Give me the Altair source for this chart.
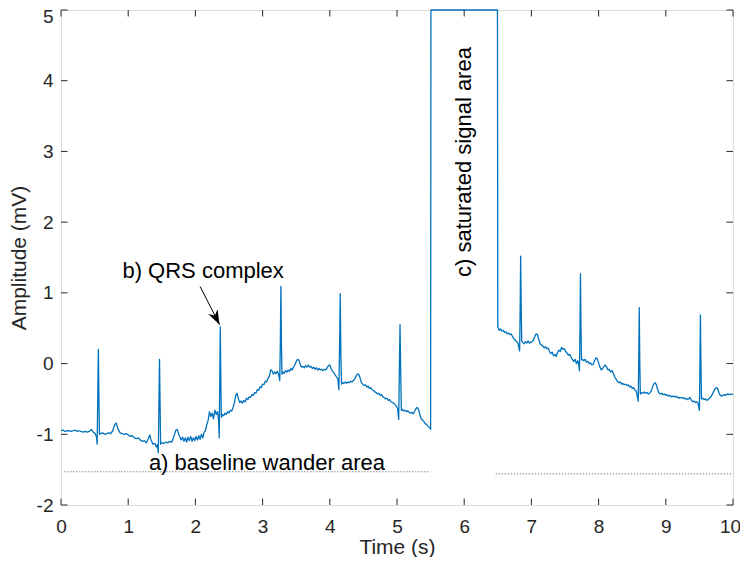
import altair as alt
import pandas as pd

# ---------------- data ----------------
# signal before the saturated stretch: (time s, amplitude mV)
pre_sat = [
    (0.00, -0.95), (0.03, -0.94), (0.06, -0.96), (0.09, -0.95), (0.12, -0.95), (0.15, -0.96),
    (0.18, -0.95), (0.21, -0.94), (0.24, -0.96), (0.27, -0.95), (0.30, -0.96), (0.33, -0.97),
    (0.36, -0.96), (0.39, -0.97), (0.42, -0.96), (0.45, -0.93), (0.48, -0.97), (0.51, -0.99),
    (0.530, -1.05), (0.538, -1.14), (0.548, -0.40), (0.556, 0.20), (0.564, -0.45), (0.572, -1.00),
    (0.59, -0.99), (0.62, -0.98), (0.65, -1.00), (0.68, -0.99), (0.71, -0.98), (0.74, -0.99),
    (0.77, -0.95), (0.80, -0.86), (0.82, -0.84), (0.85, -0.93), (0.88, -0.98), (0.91, -0.99),
    (0.94, -1.00), (0.97, -0.99), (1.00, -1.01), (1.03, -1.03), (1.06, -1.02), (1.09, -1.05),
    (1.12, -1.06), (1.15, -1.05), (1.18, -1.08), (1.21, -1.10), (1.24, -1.09), (1.27, -1.12),
    (1.30, -1.06), (1.32, -1.01), (1.34, -1.08), (1.37, -1.14), (1.40, -1.13), (1.42, -1.18),
    (1.435, -1.15), (1.448, -1.26), (1.458, -0.50), (1.466, 0.06), (1.474, -0.55), (1.482, -1.14),
    (1.50, -1.12), (1.53, -1.13), (1.56, -1.11), (1.59, -1.12), (1.62, -1.10), (1.65, -1.11),
    (1.68, -1.03), (1.71, -0.94), (1.73, -0.93), (1.76, -1.02), (1.79, -1.08), (1.81, -1.04),
    (1.83, -1.10), (1.85, -1.05), (1.87, -1.11), (1.89, -1.04), (1.91, -1.09), (1.93, -1.03),
    (1.95, -1.10), (1.97, -1.05), (1.99, -1.09), (2.01, -1.03), (2.03, -1.08), (2.05, -1.02),
    (2.07, -1.07), (2.09, -1.00), (2.11, -1.05), (2.13, -0.97), (2.15, -0.95), (2.17, -0.86),
    (2.19, -0.80), (2.21, -0.68), (2.23, -0.75), (2.25, -0.70), (2.27, -0.78), (2.29, -0.66),
    (2.31, -0.72), (2.33, -0.68), (2.345, -0.80), (2.355, -1.05), (2.362, -0.30), (2.370, 0.52),
    (2.378, -0.20), (2.386, -0.76), (2.40, -0.72), (2.42, -0.74), (2.44, -0.70), (2.46, -0.72),
    (2.48, -0.68), (2.50, -0.70), (2.52, -0.66), (2.54, -0.67), (2.56, -0.62), (2.58, -0.56),
    (2.60, -0.45), (2.62, -0.42), (2.64, -0.50), (2.66, -0.55), (2.68, -0.53), (2.70, -0.56),
    (2.72, -0.52), (2.74, -0.54), (2.76, -0.49), (2.78, -0.51), (2.80, -0.47), (2.82, -0.48),
    (2.84, -0.44), (2.86, -0.45), (2.88, -0.41), (2.90, -0.42), (2.92, -0.37), (2.94, -0.38),
    (2.96, -0.33), (2.98, -0.34), (3.00, -0.29), (3.02, -0.30), (3.04, -0.25), (3.06, -0.26),
    (3.08, -0.21), (3.10, -0.18), (3.12, -0.09), (3.14, -0.10), (3.16, -0.15), (3.18, -0.12),
    (3.20, -0.14), (3.22, -0.11), (3.24, -0.16), (3.255, -0.24), (3.264, 0.30), (3.272, 1.09),
    (3.280, 0.30), (3.288, -0.15), (3.30, -0.12), (3.32, -0.14), (3.34, -0.10), (3.36, -0.12),
    (3.38, -0.09), (3.40, -0.11), (3.42, -0.07), (3.44, -0.09), (3.46, -0.05), (3.48, -0.02),
    (3.50, 0.03), (3.52, 0.06), (3.54, 0.05), (3.56, -0.01), (3.58, -0.05), (3.60, -0.04),
    (3.62, -0.06), (3.64, -0.03), (3.66, -0.05), (3.68, -0.02), (3.70, -0.05), (3.72, -0.04),
    (3.74, -0.07), (3.76, -0.05), (3.78, -0.08), (3.80, -0.06), (3.82, -0.09), (3.84, -0.07),
    (3.86, -0.09), (3.88, -0.08), (3.90, -0.10), (3.92, -0.08), (3.94, -0.09), (3.96, -0.06),
    (3.98, -0.03), (4.00, -0.02), (4.02, -0.07), (4.04, -0.11), (4.06, -0.13), (4.08, -0.16),
    (4.10, -0.19), (4.12, -0.22), (4.135, -0.37), (4.145, 0.20), (4.155, 0.99), (4.165, 0.10),
    (4.175, -0.29), (4.19, -0.27), (4.21, -0.28), (4.23, -0.26), (4.25, -0.28), (4.27, -0.26),
    (4.29, -0.27), (4.31, -0.25), (4.33, -0.26), (4.35, -0.24), (4.37, -0.22), (4.39, -0.18),
    (4.41, -0.15), (4.43, -0.15), (4.45, -0.20), (4.47, -0.27), (4.49, -0.29), (4.51, -0.31),
    (4.53, -0.30), (4.55, -0.33), (4.57, -0.32), (4.59, -0.35), (4.61, -0.34), (4.63, -0.37),
    (4.65, -0.38), (4.67, -0.40), (4.69, -0.41), (4.71, -0.43), (4.73, -0.42), (4.75, -0.45),
    (4.77, -0.44), (4.79, -0.47), (4.81, -0.48), (4.83, -0.50), (4.85, -0.49), (4.87, -0.52),
    (4.89, -0.51), (4.91, -0.54), (4.93, -0.55), (4.95, -0.56), (4.97, -0.58), (4.99, -0.60),
    (5.01, -0.64), (5.025, -0.79), (5.035, -0.10), (5.045, 0.55), (5.055, -0.10), (5.065, -0.66),
    (5.08, -0.65), (5.10, -0.67), (5.12, -0.66), (5.14, -0.68), (5.16, -0.67), (5.18, -0.69),
    (5.20, -0.70), (5.22, -0.69), (5.24, -0.71), (5.26, -0.68), (5.28, -0.64), (5.30, -0.62),
    (5.32, -0.65), (5.34, -0.72), (5.36, -0.78), (5.38, -0.80), (5.40, -0.82), (5.42, -0.85),
    (5.44, -0.86), (5.46, -0.89), (5.48, -0.90), (5.50, -0.93),
]
# clipped (saturated) part
saturated = [(5.505, 5.0), (6.495, 5.0)]
# signal after the saturated stretch
post_sat = [
    (6.50, 0.52), (6.52, 0.47), (6.54, 0.49), (6.56, 0.46), (6.58, 0.47), (6.60, 0.44),
    (6.62, 0.45), (6.64, 0.42), (6.66, 0.43), (6.68, 0.41), (6.70, 0.42), (6.72, 0.38),
    (6.74, 0.35), (6.76, 0.33), (6.78, 0.31), (6.80, 0.29), (6.815, 0.22), (6.825, 0.18),
    (6.833, 0.80), (6.840, 1.52), (6.848, 0.80), (6.856, 0.32), (6.87, 0.30), (6.89, 0.28),
    (6.91, 0.31), (6.93, 0.29), (6.95, 0.32), (6.97, 0.29), (6.99, 0.30), (7.01, 0.31),
    (7.03, 0.33), (7.05, 0.38), (7.07, 0.42), (7.09, 0.41), (7.11, 0.34), (7.13, 0.28),
    (7.15, 0.26), (7.17, 0.25), (7.19, 0.22), (7.21, 0.24), (7.23, 0.21), (7.25, 0.22),
    (7.27, 0.17), (7.29, 0.14), (7.31, 0.16), (7.33, 0.11), (7.35, 0.13), (7.37, 0.10),
    (7.39, 0.16), (7.41, 0.19), (7.43, 0.17), (7.45, 0.23), (7.47, 0.20), (7.49, 0.21),
    (7.51, 0.17), (7.53, 0.15), (7.55, 0.12), (7.57, 0.13), (7.59, 0.09), (7.61, 0.06),
    (7.63, 0.03), (7.65, 0.06), (7.67, 0.00), (7.69, 0.04), (7.705, -0.02), (7.715, -0.10),
    (7.723, 0.50), (7.730, 1.27), (7.738, 0.50), (7.746, 0.05), (7.76, 0.06), (7.78, 0.04),
    (7.80, 0.06), (7.82, 0.02), (7.84, 0.03), (7.86, 0.00), (7.88, 0.01), (7.90, -0.02),
    (7.92, -0.01), (7.94, 0.04), (7.96, 0.08), (7.98, 0.07), (8.00, 0.01), (8.02, -0.05),
    (8.04, -0.09), (8.06, -0.07), (8.08, -0.04), (8.10, -0.02), (8.12, -0.05), (8.14, -0.09),
    (8.16, -0.08), (8.18, -0.12), (8.20, -0.10), (8.22, -0.14), (8.24, -0.19), (8.26, -0.22),
    (8.28, -0.25), (8.30, -0.27), (8.32, -0.26), (8.34, -0.29), (8.36, -0.28), (8.38, -0.30),
    (8.40, -0.29), (8.42, -0.31), (8.44, -0.30), (8.46, -0.33), (8.48, -0.32), (8.50, -0.35),
    (8.52, -0.34), (8.54, -0.37), (8.56, -0.39), (8.59, -0.53), (8.598, 0.10), (8.605, 0.79),
    (8.613, 0.00), (8.621, -0.43), (8.64, -0.41), (8.66, -0.42), (8.68, -0.40), (8.70, -0.42),
    (8.72, -0.41), (8.74, -0.43), (8.76, -0.42), (8.78, -0.39), (8.80, -0.34), (8.82, -0.29),
    (8.84, -0.27), (8.86, -0.30), (8.88, -0.37), (8.90, -0.42), (8.92, -0.43), (8.94, -0.42),
    (8.96, -0.44), (8.98, -0.43), (9.00, -0.45), (9.02, -0.44), (9.04, -0.46), (9.06, -0.45),
    (9.08, -0.47), (9.10, -0.46), (9.12, -0.47), (9.14, -0.46), (9.16, -0.48), (9.18, -0.47),
    (9.20, -0.49), (9.22, -0.48), (9.24, -0.49), (9.26, -0.48), (9.28, -0.50), (9.30, -0.49),
    (9.32, -0.51), (9.34, -0.50), (9.36, -0.48), (9.38, -0.52), (9.40, -0.54), (9.42, -0.53),
    (9.44, -0.55), (9.46, -0.54), (9.48, -0.56), (9.50, -0.66), (9.508, 0.00), (9.515, 0.69),
    (9.523, 0.00), (9.531, -0.50), (9.55, -0.49), (9.57, -0.51), (9.59, -0.50), (9.61, -0.52),
    (9.63, -0.51), (9.65, -0.49), (9.67, -0.47), (9.69, -0.44), (9.71, -0.40), (9.73, -0.36),
    (9.75, -0.34), (9.77, -0.35), (9.79, -0.41), (9.81, -0.45), (9.83, -0.46), (9.85, -0.45),
    (9.87, -0.44), (9.89, -0.45), (9.91, -0.43), (9.93, -0.44), (9.95, -0.43), (9.97, -0.44),
    (10.00, -0.43),
]

# dotted marker lines under the annotated areas: (t start, t end, amplitude)
dotted_lines = [(0.05, 5.50, -1.53), (6.47, 10.0, -1.56)]

# annotation texts: (text, t, amplitude, angle)
notes = [
    ("b) QRS complex", 2.115, 1.31, 0),
    ("a) baseline wander area", 3.064, -1.40, 0),
    ("c) saturated signal area", 5.99, 2.85, 270),
]
# arrow for the QRS annotation: start and tip
arrow_start = (2.07, 1.09)
arrow_tip = (2.36, 0.55)

x_ticks = list(range(0, 11))
y_ticks = list(range(-2, 6))

# ---------------- build chart ----------------
W, H = 672, 495
FONT = "Liberation Sans"
AX = "#262626"
BLUE = "#0072BD"

sig_pts = pre_sat + saturated + post_sat
sig = pd.DataFrame({"t": [p[0] for p in sig_pts], "v": [p[1] for p in sig_pts]})
sig["i"] = range(len(sig))

xs = alt.Scale(domain=[0, 10], nice=False, zero=False)
ys = alt.Scale(domain=[-2, 5], nice=False, zero=False)

x_axis = alt.Axis(
    values=x_ticks, title="Time (s)", ticks=False, domain=False, grid=False,
    labelFont=FONT, labelFontSize=19, labelColor=AX, labelPadding=12,
    labelFlush=False, labelOverlap=False, labelExpr="'' + datum.value",
    labelOffset={"condition": {"test": "datum.value == 10", "value": -3}, "value": 0},
    titleFont=FONT, titleFontSize=21, titleFontWeight="normal", titleColor=AX,
    titleY=42, titleBaseline="middle",
)
y_axis = alt.Axis(
    values=y_ticks, title="Amplitude (mV)", ticks=False, domain=False, grid=False,
    labelFont=FONT, labelFontSize=19, labelColor=AX, labelPadding=8,
    labelFlush=False, labelOverlap=False, labelExpr="'' + datum.value",
    labelOffset={"condition": {"test": "datum.value == 5", "value": 6}, "value": 0},
    titleFont=FONT, titleFontSize=21, titleFontWeight="normal", titleColor=AX,
    titleX=-42, titleY=H / 2, titleAngle=270, titleAlign="center", titleBaseline="middle",
)


def X(field="t"):
    return alt.X(f"{field}:Q", scale=xs, axis=x_axis)


def Y(field="v"):
    return alt.Y(f"{field}:Q", scale=ys, axis=y_axis)


line = alt.Chart(sig).mark_line(color=BLUE, strokeWidth=1.3, strokeJoin="round").encode(
    x=X(), y=Y(), order="i:Q",
)

dots = pd.DataFrame(dotted_lines, columns=["t", "t2", "v"])
dotted = alt.Chart(dots).mark_rule(color="#555555", strokeWidth=1, strokeDash=[1, 2]).encode(
    x=X(), x2="t2:Q", y=Y()
)

xt = pd.DataFrame({"t": x_ticks})
yt = pd.DataFrame({"v": y_ticks})
TL = 6.5
xtick_b = alt.Chart(xt).mark_rule(color=AX, strokeWidth=1).encode(
    x=X(), y=alt.value(H), y2=alt.value(H - TL))
xtick_t = alt.Chart(xt).mark_rule(color=AX, strokeWidth=1).encode(
    x=X(), y=alt.value(0), y2=alt.value(TL))
ytick_l = alt.Chart(yt).mark_rule(color=AX, strokeWidth=1).encode(
    y=Y(), x=alt.value(0), x2=alt.value(TL))
ytick_r = alt.Chart(yt).mark_rule(color=AX, strokeWidth=1).encode(
    y=Y(), x=alt.value(W), x2=alt.value(W - TL))

notes_df = pd.DataFrame(notes, columns=["text", "t", "v", "angle"])
text_h = alt.Chart(notes_df[notes_df.angle == 0]).mark_text(
    font=FONT, fontSize=22, color="black", align="center", baseline="middle"
).encode(x=X(), y=Y(), text="text:N")
text_v = alt.Chart(notes_df[notes_df.angle == 270]).mark_text(
    font=FONT, fontSize=22, color="black", align="center", baseline="middle", angle=270
).encode(x=X(), y=Y(), text="text:N")

arr = pd.DataFrame({"t": [arrow_start[0]], "v": [arrow_start[1]],
                    "t2": [arrow_tip[0]], "v2": [arrow_tip[1]]})
arrow_line = alt.Chart(arr).mark_rule(color="black", strokeWidth=1).encode(
    x=X(), y=Y(), x2="t2:Q", y2="v2:Q")
tip = pd.DataFrame({"t": [arrow_tip[0]], "v": [arrow_tip[1]]})
arrow_head = alt.Chart(tip).mark_point(
    shape="M0,0 L0.6,1.7 L0,1.2 L-0.6,1.7 Z", filled=True, color="black",
    size=300, angle=153, opacity=1, strokeWidth=0
).encode(x=X(), y=Y())

chart = alt.layer(
    line, dotted, xtick_b, xtick_t, ytick_l, ytick_r, text_h, text_v, arrow_line, arrow_head
).properties(
    width=W, height=H, autosize="none",
    padding={"left": 53, "top": 2, "right": 7, "bottom": 52},
).configure_view(stroke="#333333", strokeWidth=1).configure(background="white")

chart.save("out.html", embed_options={"renderer": "svg", "actions": False})
